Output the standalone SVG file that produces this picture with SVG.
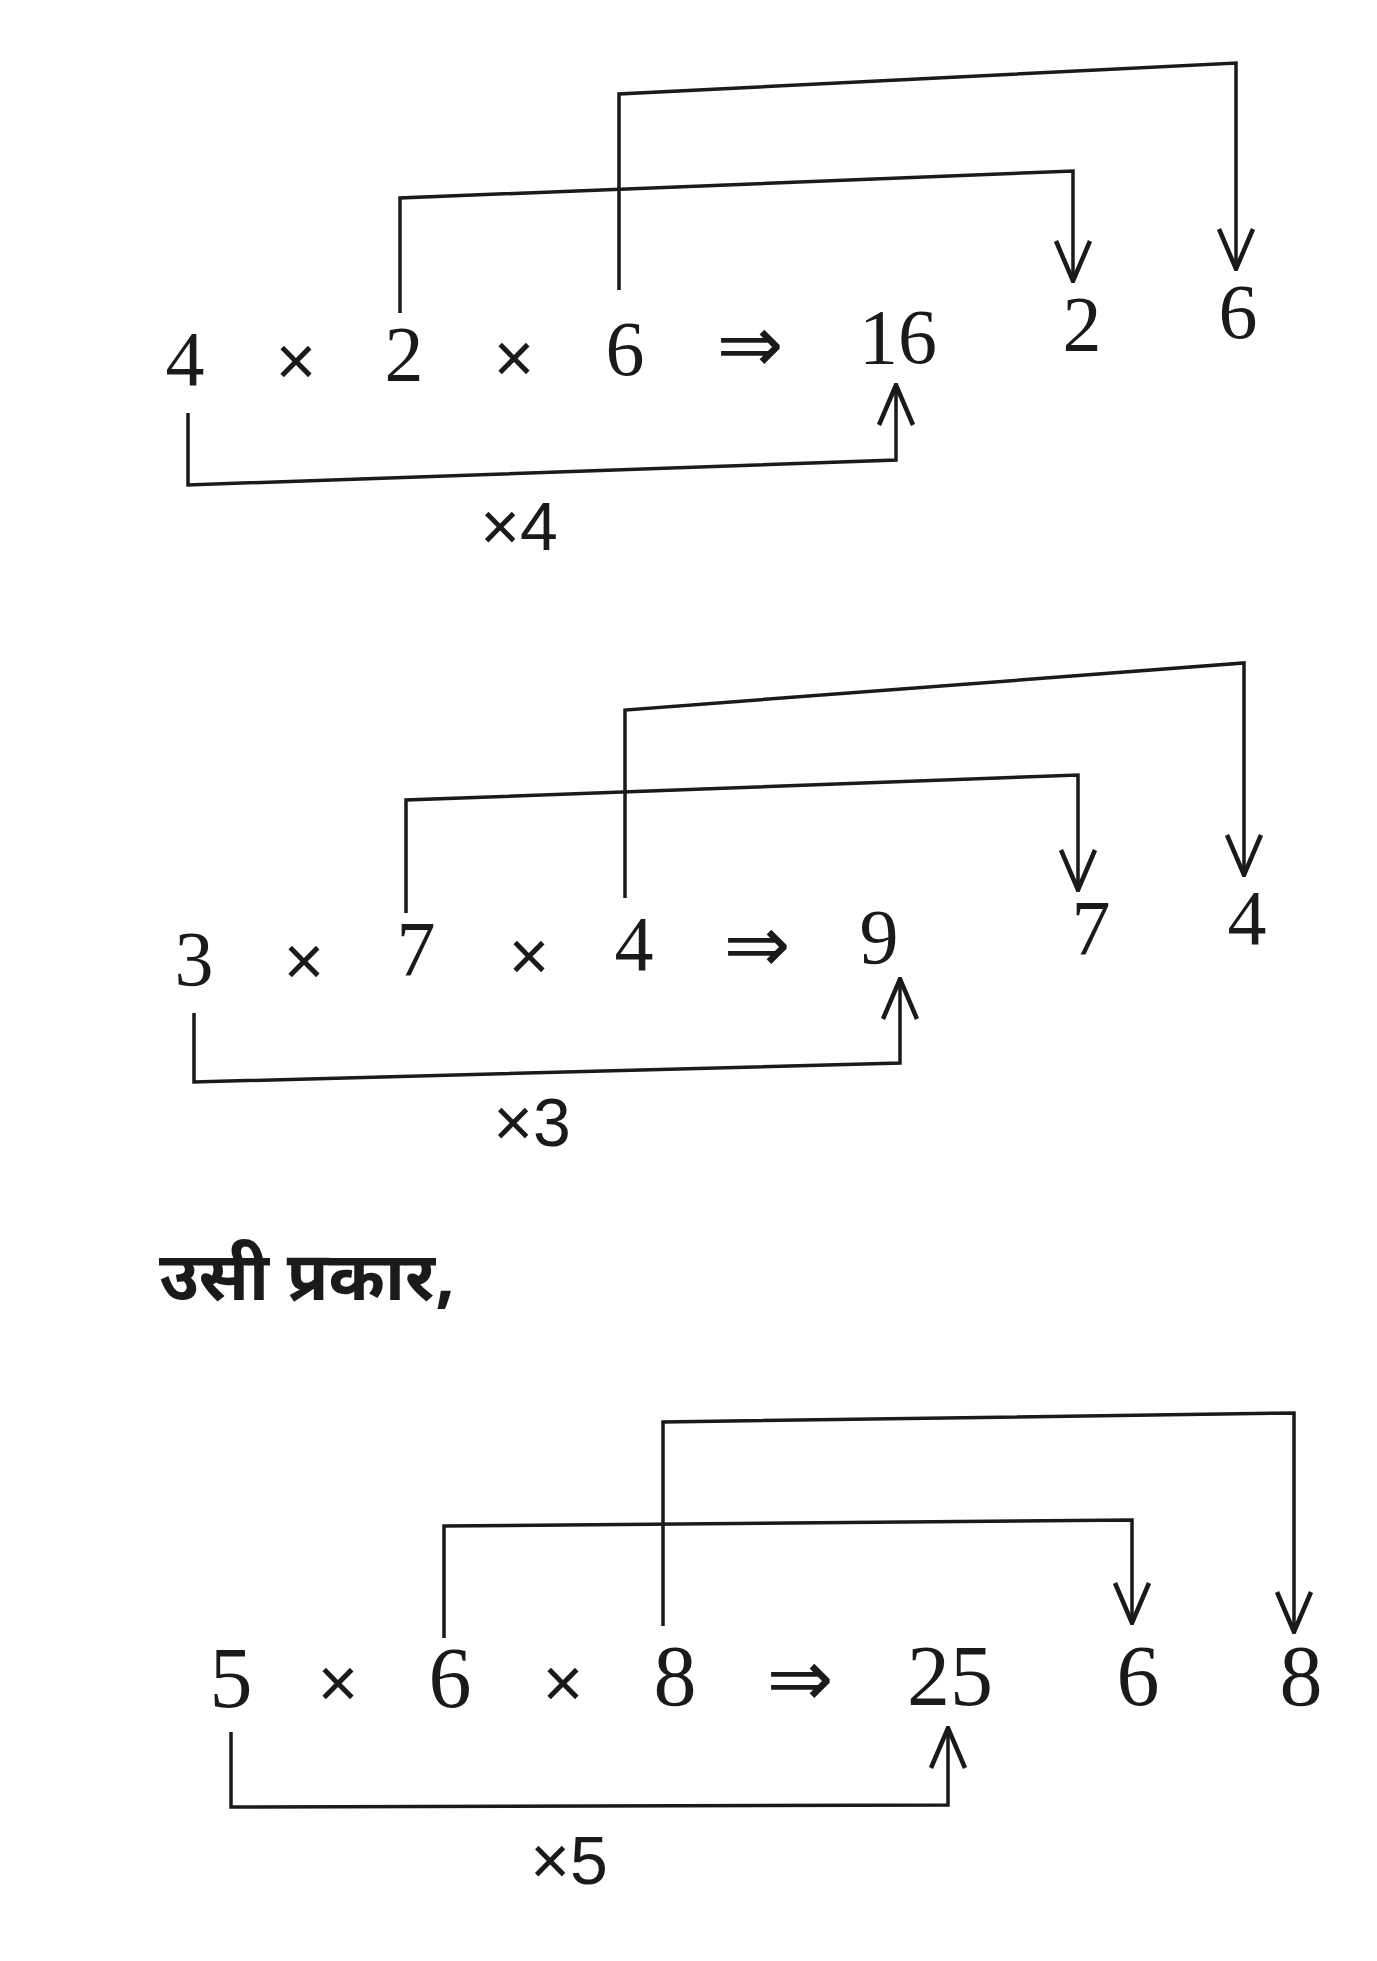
<svg xmlns="http://www.w3.org/2000/svg" width="1377" height="1961" viewBox="0 0 1377 1961">
<style>
.d{font-family:"Liberation Serif","DejaVu Serif",serif;font-size:78px;fill:#1a1a1a;text-anchor:middle}
.d3{font-size:86px}
.x{font-family:"Liberation Sans","DejaVu Sans",sans-serif;font-size:70px;fill:#1a1a1a;text-anchor:middle}
.ar{font-family:"DejaVu Sans",sans-serif;font-size:80px;fill:#1a1a1a;text-anchor:middle}
.m{font-family:"Liberation Sans","DejaVu Sans",sans-serif;font-size:68px;fill:#1a1a1a;text-anchor:middle}
.h{font-family:"Noto Sans Devanagari","Noto Sans","Lohit Devanagari",sans-serif;font-size:68px;font-weight:bold;fill:#1a1a1a}
.c{fill:none;stroke:#1a1a1a;stroke-width:3.5;stroke-linejoin:miter;marker-end:url(#v)}
</style>
<defs>
<marker id="v" markerUnits="userSpaceOnUse" viewBox="0 0 44 40" refX="42" refY="20" markerWidth="44" markerHeight="40" orient="auto">
<path d="M2,3 L42,20 L2,37" fill="none" stroke="#1a1a1a" stroke-width="4.5"/>
</marker>
</defs>
<rect width="1377" height="1961" fill="#ffffff"/>

<g id="connectors">
<path class="c" d="M400,313 V198 L1073,171 V281"/>
<path class="c" d="M619,290 V94 L1236,63 V269"/>
<path class="c" d="M188,413 V485 L896,460 V385"/>
<path class="c" d="M406,913 V800 L1078,775 V890"/>
<path class="c" d="M625,898 V710 L1244,663 V875"/>
<path class="c" d="M194,1013 V1082 L900,1063 V979"/>
<path class="c" d="M444,1638 V1526 L1132,1520 V1623"/>
<path class="c" d="M663,1626 V1422 L1294,1413 V1632"/>
<path class="c" d="M231,1732 V1807 L948,1805 V1728"/>
</g>

<g id="row1">
<g id="n1-4"><text class="d" x="185" y="385">4</text></g>
<g id="n1-x1"><text class="x" x="296" y="385">×</text></g>
<g id="n1-2"><text class="d" x="404" y="380">2</text></g>
<g id="n1-x2"><text class="x" x="514" y="382">×</text></g>
<g id="n1-6"><text class="d" x="625" y="375">6</text></g>
<g id="n1-arrow"><text class="ar" x="750" y="372">⇒</text></g>
<g id="n1-16"><text class="d" x="898" y="363">16</text></g>
<g id="n1-r2"><text class="d" x="1082" y="350">2</text></g>
<g id="n1-r6"><text class="d" x="1238" y="338">6</text></g>
<g id="n1-m"><text class="m" x="519" y="550">×4</text></g>
</g>

<g id="row2">
<g id="n2-3"><text class="d" x="194" y="985">3</text></g>
<g id="n2-x1"><text class="x" x="304" y="985">×</text></g>
<g id="n2-7"><text class="d" x="416" y="975">7</text></g>
<g id="n2-x2"><text class="x" x="529" y="980">×</text></g>
<g id="n2-4"><text class="d" x="634" y="970">4</text></g>
<g id="n2-arrow"><text class="ar" x="757" y="972">⇒</text></g>
<g id="n2-9"><text class="d" x="879" y="963">9</text></g>
<g id="n2-r7"><text class="d" x="1091" y="954">7</text></g>
<g id="n2-r4"><text class="d" x="1247" y="944">4</text></g>
<g id="n2-m"><text class="m" x="532" y="1146">×3</text></g>
</g>

<g id="heading"><text class="h" x="159" y="1300">उसी प्रकार,</text></g>

<g id="row3">
<g id="n3-5"><text class="d d3" x="231" y="1707">5</text></g>
<g id="n3-x1"><text class="x" x="338" y="1707">×</text></g>
<g id="n3-6"><text class="d d3" x="450" y="1707">6</text></g>
<g id="n3-x2"><text class="x" x="563" y="1707">×</text></g>
<g id="n3-8"><text class="d d3" x="675" y="1705">8</text></g>
<g id="n3-arrow"><text class="ar" x="800" y="1706">⇒</text></g>
<g id="n3-25"><text class="d d3" x="950" y="1705">25</text></g>
<g id="n3-r6"><text class="d d3" x="1138" y="1705">6</text></g>
<g id="n3-r8"><text class="d d3" x="1301" y="1705">8</text></g>
<g id="n3-m"><text class="m" x="569" y="1884">×5</text></g>
</g>
</svg>
